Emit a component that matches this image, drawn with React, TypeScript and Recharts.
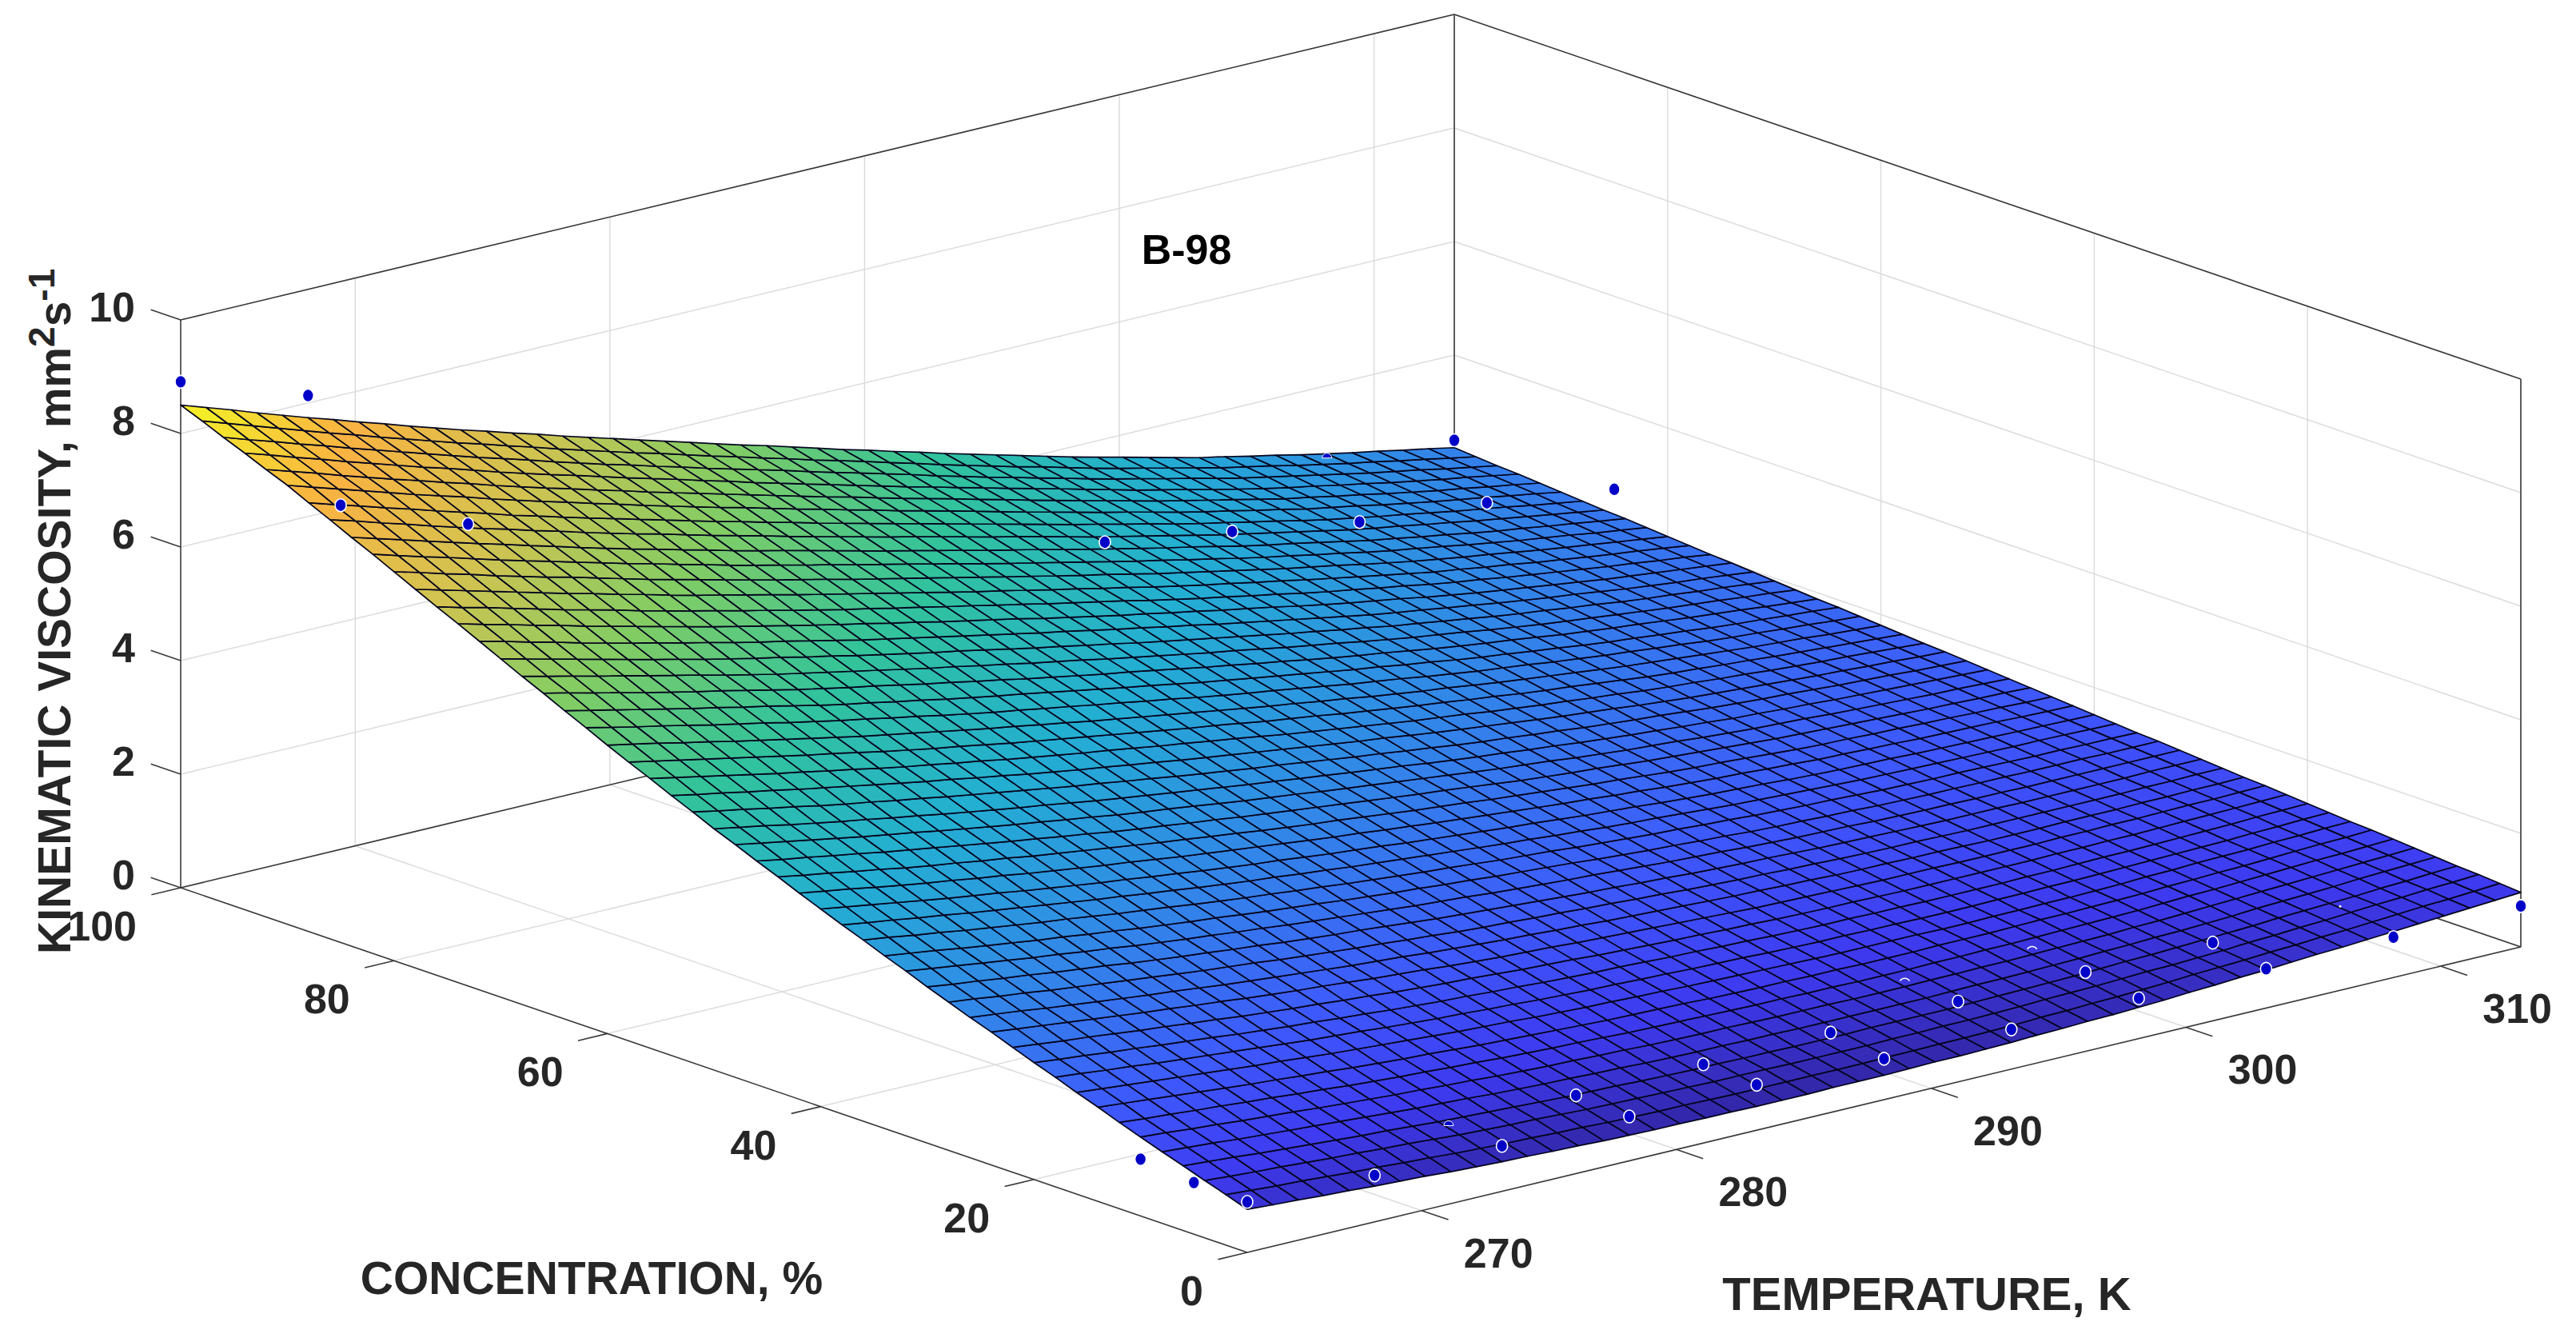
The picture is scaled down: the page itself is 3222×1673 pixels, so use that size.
import { Scatter, ScatterChart, XAxis, YAxis } from "recharts";

const WIDTH = 3222;
const HEIGHT = 1673;
const T_MIN = 263.15;
const T_MAX = 313.15;

const zTicks = [0, 2, 4, 6, 8, 10];
const concentrationTicks = [0, 20, 40, 60, 80, 100];
const temperatureTicks = [270, 280, 290, 300, 310];

const gridConcentrations = [
  0, 2, 4, 6, 8, 10, 12, 14, 16, 18, 20, 22, 24, 26, 28, 30, 32, 34, 36, 38, 40, 42, 44, 46, 48, 50,
  52, 54, 56, 58, 60, 62, 64, 66, 68, 70, 72, 74, 76, 78, 80, 82, 84, 86, 88, 90, 92, 94, 96, 98, 100,
];
const gridTemperatures = [
  263.15, 264.15, 265.15, 266.15, 267.15, 268.15, 269.15, 270.15, 271.15, 272.15, 273.15, 274.15, 275.15,
  276.15, 277.15, 278.15, 279.15, 280.15, 281.15, 282.15, 283.15, 284.15, 285.15, 286.15, 287.15, 288.15,
  289.15, 290.15, 291.15, 292.15, 293.15, 294.15, 295.15, 296.15, 297.15, 298.15, 299.15, 300.15, 301.15,
  302.15, 303.15, 304.15, 305.15, 306.15, 307.15, 308.15, 309.15, 310.15, 311.15, 312.15, 313.15,
];

// Surface heights: edges, inner nodes estimated by eye from edges and colour.
const gridViscosity = [
  [.76,.73,.71,.68,.66,.63,.61,.59,.56,.54,.52,.51,.49,.48,.46,.45,.44,.44,.43,.43,.42,.42,.42,.43,.43,.43,.44,.45,.45,.46,.47,.49,.5,.52,.53,.55,.57,.6,.62,.65,.67,.7,.73,.75,.78,.81,.84,.87,.9,.93,.96],
  [.89,.86,.83,.81,.78,.75,.73,.7,.68,.65,.63,.61,.6,.58,.57,.55,.54,.53,.53,.52,.51,.51,.51,.51,.51,.51,.52,.52,.53,.53,.54,.55,.57,.58,.6,.61,.63,.65,.68,.7,.72,.75,.77,.8,.82,.85,.88,.91,.93,.96,.99],
  [1.01,.98,.95,.93,.9,.87,.85,.82,.8,.77,.74,.72,.7,.69,.67,.65,.64,.63,.62,.61,.6,.6,.6,.59,.59,.59,.59,.6,.6,.61,.61,.62,.63,.65,.66,.67,.69,.71,.72,.74,.76,.79,.81,.84,.86,.89,.92,.94,.97,.99,1.02],
  [1.14,1.11,1.08,1.04,1.01,.98,.95,.92,.9,.87,.84,.82,.8,.78,.76,.74,.73,.72,.7,.69,.68,.68,.67,.67,.66,.66,.66,.67,.67,.67,.67,.68,.69,.7,.71,.72,.74,.76,.77,.79,.81,.83,.85,.88,.9,.92,.94,.97,.99,1.02,1.04],
  [1.26,1.23,1.2,1.16,1.13,1.1,1.07,1.04,1.01,.98,.95,.93,.91,.88,.86,.84,.83,.81,.8,.78,.77,.76,.76,.75,.75,.74,.74,.74,.74,.74,.74,.75,.76,.76,.77,.78,.79,.81,.82,.84,.85,.87,.89,.92,.94,.96,.98,1.01,1.03,1.05,1.07],
  [1.39,1.36,1.32,1.29,1.25,1.22,1.19,1.15,1.12,1.09,1.06,1.04,1.01,.99,.96,.94,.92,.91,.89,.88,.86,.85,.84,.84,.83,.82,.82,.82,.81,.81,.81,.82,.82,.83,.83,.84,.85,.86,.87,.89,.9,.92,.94,.96,.98,1.0,1.02,1.04,1.06,1.08,1.1],
  [1.52,1.48,1.45,1.41,1.38,1.34,1.31,1.27,1.24,1.2,1.17,1.14,1.12,1.09,1.07,1.04,1.02,1.0,.99,.97,.95,.94,.93,.92,.91,.9,.9,.89,.89,.88,.88,.88,.89,.89,.9,.9,.91,.92,.93,.94,.95,.97,.99,1.0,1.02,1.04,1.06,1.08,1.09,1.11,1.13],
  [1.66,1.62,1.58,1.54,1.5,1.46,1.42,1.39,1.35,1.32,1.28,1.25,1.22,1.2,1.17,1.14,1.12,1.1,1.08,1.06,1.04,1.03,1.02,1.01,.99,.98,.97,.97,.96,.96,.95,.95,.95,.96,.96,.96,.97,.98,.98,.99,1.0,1.01,1.03,1.04,1.06,1.07,1.09,1.11,1.13,1.14,1.16],
  [1.79,1.75,1.71,1.67,1.63,1.59,1.55,1.51,1.48,1.44,1.4,1.37,1.34,1.31,1.28,1.25,1.23,1.21,1.18,1.16,1.14,1.13,1.11,1.1,1.08,1.07,1.06,1.05,1.04,1.03,1.02,1.02,1.02,1.02,1.01,1.01,1.02,1.02,1.03,1.03,1.04,1.05,1.07,1.08,1.1,1.11,1.12,1.14,1.15,1.17,1.18],
  [1.93,1.89,1.84,1.8,1.75,1.71,1.67,1.63,1.59,1.55,1.51,1.48,1.45,1.41,1.38,1.35,1.33,1.3,1.28,1.25,1.23,1.21,1.2,1.18,1.17,1.15,1.14,1.13,1.11,1.1,1.09,1.09,1.08,1.08,1.07,1.07,1.07,1.08,1.08,1.09,1.09,1.1,1.11,1.12,1.13,1.14,1.15,1.17,1.18,1.2,1.21],
  [2.06,2.01,1.97,1.92,1.88,1.83,1.79,1.75,1.7,1.66,1.62,1.59,1.55,1.52,1.48,1.45,1.42,1.4,1.37,1.35,1.32,1.3,1.28,1.27,1.25,1.23,1.22,1.2,1.19,1.17,1.16,1.15,1.15,1.14,1.14,1.13,1.13,1.13,1.13,1.14,1.14,1.15,1.16,1.16,1.17,1.18,1.19,1.2,1.22,1.23,1.24],
  [2.2,2.15,2.1,2.06,2.01,1.96,1.92,1.87,1.83,1.78,1.74,1.7,1.67,1.63,1.6,1.56,1.53,1.5,1.48,1.45,1.42,1.4,1.38,1.35,1.33,1.31,1.29,1.28,1.26,1.25,1.23,1.22,1.21,1.21,1.2,1.19,1.19,1.19,1.19,1.19,1.19,1.2,1.2,1.21,1.21,1.22,1.23,1.24,1.25,1.26,1.27],
  [2.34,2.29,2.24,2.19,2.14,2.09,2.04,2.0,1.95,1.91,1.86,1.82,1.78,1.75,1.71,1.67,1.64,1.61,1.57,1.54,1.51,1.49,1.47,1.44,1.42,1.4,1.38,1.36,1.34,1.32,1.3,1.29,1.28,1.27,1.26,1.25,1.25,1.25,1.24,1.24,1.24,1.24,1.25,1.25,1.26,1.26,1.27,1.28,1.28,1.29,1.3],
  [2.47,2.42,2.37,2.31,2.26,2.21,2.16,2.11,2.07,2.02,1.97,1.93,1.89,1.85,1.81,1.77,1.74,1.71,1.67,1.64,1.61,1.58,1.56,1.53,1.51,1.48,1.46,1.44,1.42,1.4,1.38,1.37,1.35,1.34,1.32,1.31,1.31,1.3,1.3,1.29,1.28,1.28,1.28,1.29,1.29,1.29,1.3,1.3,1.31,1.31,1.32],
  [2.61,2.56,2.5,2.45,2.39,2.34,2.29,2.24,2.19,2.14,2.09,2.05,2.01,1.96,1.92,1.88,1.84,1.81,1.77,1.74,1.7,1.67,1.65,1.62,1.6,1.57,1.55,1.52,1.5,1.47,1.45,1.43,1.42,1.4,1.39,1.37,1.36,1.35,1.35,1.34,1.33,1.33,1.33,1.33,1.33,1.33,1.33,1.34,1.34,1.35,1.35],
  [2.75,2.69,2.64,2.58,2.53,2.47,2.42,2.37,2.31,2.26,2.21,2.17,2.12,2.08,2.03,1.99,1.95,1.92,1.88,1.84,1.8,1.77,1.74,1.71,1.68,1.65,1.62,1.6,1.57,1.55,1.52,1.5,1.48,1.47,1.45,1.43,1.42,1.41,1.4,1.39,1.38,1.38,1.38,1.37,1.37,1.37,1.37,1.37,1.38,1.38,1.38],
  [2.9,2.84,2.78,2.72,2.66,2.6,2.55,2.49,2.44,2.38,2.33,2.28,2.24,2.19,2.15,2.1,2.06,2.02,1.98,1.94,1.9,1.87,1.84,1.8,1.77,1.74,1.71,1.69,1.66,1.63,1.6,1.58,1.56,1.53,1.51,1.49,1.48,1.47,1.45,1.44,1.43,1.43,1.42,1.42,1.41,1.41,1.41,1.41,1.41,1.41,1.41],
  [3.04,2.98,2.92,2.85,2.79,2.73,2.67,2.62,2.56,2.51,2.45,2.4,2.35,2.31,2.26,2.21,2.17,2.13,2.08,2.04,2.0,1.97,1.93,1.9,1.86,1.83,1.8,1.77,1.73,1.7,1.67,1.65,1.62,1.6,1.57,1.55,1.54,1.52,1.51,1.49,1.48,1.47,1.47,1.46,1.46,1.45,1.45,1.45,1.44,1.44,1.44],
  [3.19,3.13,3.06,3.0,2.93,2.87,2.81,2.75,2.7,2.64,2.58,2.53,2.48,2.42,2.37,2.32,2.28,2.23,2.19,2.14,2.1,2.06,2.02,1.99,1.95,1.91,1.88,1.85,1.81,1.78,1.75,1.72,1.7,1.67,1.65,1.62,1.6,1.58,1.57,1.55,1.53,1.52,1.51,1.51,1.5,1.49,1.48,1.48,1.47,1.47,1.46],
  [3.33,3.26,3.2,3.13,3.07,3.0,2.94,2.88,2.82,2.76,2.7,2.65,2.59,2.54,2.48,2.43,2.38,2.34,2.29,2.25,2.2,2.16,2.12,2.08,2.04,2.0,1.96,1.93,1.89,1.86,1.82,1.79,1.77,1.74,1.71,1.68,1.66,1.64,1.62,1.6,1.58,1.57,1.56,1.55,1.54,1.53,1.52,1.52,1.51,1.5,1.49],
  [3.48,3.41,3.34,3.27,3.2,3.13,3.07,3.01,2.94,2.88,2.82,2.76,2.71,2.65,2.6,2.54,2.49,2.44,2.4,2.35,2.3,2.26,2.22,2.17,2.13,2.09,2.05,2.01,1.98,1.94,1.9,1.87,1.84,1.8,1.77,1.74,1.72,1.7,1.67,1.65,1.63,1.62,1.61,1.59,1.58,1.57,1.56,1.55,1.54,1.53,1.52],
  [3.63,3.56,3.49,3.41,3.34,3.27,3.21,3.14,3.08,3.01,2.95,2.89,2.83,2.78,2.72,2.66,2.61,2.56,2.51,2.46,2.41,2.36,2.32,2.27,2.23,2.18,2.14,2.1,2.06,2.02,1.98,1.95,1.91,1.88,1.84,1.81,1.78,1.76,1.73,1.71,1.68,1.67,1.65,1.64,1.62,1.61,1.6,1.59,1.57,1.56,1.55],
  [3.79,3.71,3.64,3.56,3.49,3.41,3.34,3.28,3.21,3.15,3.08,3.02,2.96,2.9,2.84,2.78,2.73,2.67,2.62,2.56,2.51,2.46,2.42,2.37,2.32,2.27,2.23,2.19,2.14,2.1,2.06,2.02,1.98,1.95,1.91,1.87,1.84,1.82,1.79,1.76,1.73,1.71,1.7,1.68,1.67,1.65,1.64,1.62,1.61,1.59,1.58],
  [3.94,3.86,3.79,3.71,3.64,3.56,3.49,3.42,3.35,3.28,3.21,3.15,3.08,3.02,2.95,2.89,2.84,2.78,2.73,2.67,2.62,2.57,2.52,2.47,2.42,2.37,2.32,2.28,2.23,2.18,2.13,2.09,2.05,2.02,1.98,1.94,1.91,1.88,1.85,1.82,1.79,1.77,1.75,1.73,1.71,1.69,1.67,1.66,1.64,1.63,1.61],
  [4.1,4.02,3.94,3.86,3.78,3.7,3.63,3.56,3.48,3.41,3.34,3.27,3.21,3.14,3.08,3.01,2.95,2.9,2.84,2.78,2.72,2.67,2.62,2.56,2.51,2.46,2.41,2.36,2.31,2.26,2.21,2.17,2.13,2.08,2.04,2.0,1.97,1.94,1.9,1.87,1.84,1.82,1.8,1.77,1.75,1.73,1.71,1.69,1.68,1.66,1.64],
  [4.25,4.17,4.09,4.0,3.92,3.84,3.77,3.69,3.62,3.54,3.47,3.4,3.33,3.27,3.2,3.13,3.07,3.01,2.95,2.89,2.83,2.77,2.72,2.66,2.61,2.55,2.5,2.45,2.39,2.34,2.29,2.25,2.2,2.16,2.11,2.07,2.03,2.0,1.96,1.93,1.89,1.87,1.84,1.82,1.79,1.77,1.75,1.73,1.71,1.69,1.67],
  [4.42,4.33,4.25,4.16,4.08,3.99,3.91,3.84,3.76,3.69,3.61,3.54,3.47,3.4,3.33,3.26,3.2,3.13,3.07,3.0,2.94,2.88,2.82,2.77,2.71,2.65,2.59,2.54,2.48,2.43,2.37,2.32,2.28,2.23,2.19,2.14,2.1,2.06,2.03,1.99,1.95,1.92,1.89,1.87,1.84,1.81,1.79,1.77,1.74,1.72,1.7],
  [4.58,4.49,4.41,4.32,4.24,4.15,4.07,3.99,3.91,3.83,3.75,3.68,3.6,3.53,3.45,3.38,3.31,3.25,3.18,3.12,3.05,2.99,2.93,2.87,2.81,2.75,2.69,2.63,2.58,2.52,2.46,2.41,2.36,2.31,2.26,2.21,2.17,2.13,2.08,2.04,2.0,1.97,1.94,1.91,1.88,1.85,1.83,1.8,1.78,1.75,1.73],
  [4.75,4.66,4.57,4.48,4.39,4.3,4.22,4.13,4.05,3.96,3.88,3.81,3.73,3.66,3.58,3.51,3.44,3.37,3.31,3.24,3.17,3.11,3.04,2.98,2.91,2.84,2.78,2.72,2.66,2.6,2.54,2.49,2.44,2.38,2.33,2.28,2.24,2.19,2.15,2.1,2.06,2.03,1.99,1.96,1.92,1.89,1.86,1.84,1.81,1.78,1.75],
  [4.91,4.82,4.73,4.64,4.55,4.46,4.37,4.28,4.2,4.11,4.02,3.94,3.86,3.79,3.71,3.63,3.56,3.49,3.42,3.35,3.28,3.21,3.14,3.08,3.01,2.94,2.88,2.82,2.75,2.69,2.63,2.57,2.52,2.46,2.41,2.35,2.3,2.26,2.21,2.16,2.11,2.07,2.04,2.0,1.97,1.93,1.9,1.87,1.84,1.81,1.78],
  [5.08,4.99,4.9,4.8,4.71,4.61,4.52,4.43,4.34,4.25,4.16,4.08,4.0,3.92,3.84,3.76,3.69,3.61,3.54,3.46,3.39,3.32,3.25,3.18,3.11,3.04,2.97,2.91,2.84,2.78,2.71,2.65,2.59,2.54,2.48,2.42,2.37,2.32,2.27,2.22,2.17,2.13,2.09,2.05,2.01,1.97,1.94,1.91,1.87,1.84,1.81],
  [5.26,5.16,5.06,4.97,4.87,4.77,4.68,4.59,4.49,4.4,4.31,4.23,4.14,4.06,3.97,3.89,3.81,3.74,3.66,3.59,3.51,3.44,3.36,3.29,3.21,3.14,3.07,3.01,2.94,2.87,2.8,2.74,2.68,2.61,2.55,2.49,2.44,2.39,2.33,2.28,2.23,2.19,2.14,2.1,2.05,2.01,1.98,1.94,1.91,1.87,1.84],
  [5.43,5.33,5.23,5.13,5.03,4.93,4.84,4.74,4.65,4.55,4.45,4.36,4.28,4.19,4.11,4.02,3.94,3.86,3.79,3.71,3.63,3.55,3.47,3.4,3.32,3.24,3.17,3.1,3.03,2.96,2.89,2.82,2.76,2.69,2.63,2.56,2.5,2.45,2.39,2.34,2.28,2.23,2.19,2.14,2.1,2.05,2.01,1.98,1.94,1.91,1.87],
  [5.61,5.51,5.4,5.3,5.19,5.09,4.99,4.9,4.8,4.7,4.6,4.51,4.42,4.34,4.25,4.16,4.08,3.99,3.91,3.82,3.74,3.66,3.58,3.51,3.43,3.35,3.27,3.2,3.12,3.05,2.97,2.9,2.83,2.77,2.7,2.63,2.57,2.51,2.46,2.4,2.34,2.29,2.24,2.2,2.15,2.1,2.06,2.02,1.97,1.93,1.89],
  [5.78,5.67,5.57,5.46,5.36,5.25,5.15,5.05,4.94,4.84,4.74,4.65,4.56,4.47,4.38,4.29,4.2,4.12,4.03,3.95,3.86,3.78,3.7,3.61,3.53,3.45,3.37,3.29,3.22,3.14,3.06,2.99,2.92,2.84,2.77,2.7,2.64,2.58,2.51,2.45,2.39,2.34,2.29,2.24,2.19,2.14,2.1,2.06,2.01,1.97,1.92],
  [5.96,5.85,5.74,5.63,5.52,5.41,5.3,5.2,5.09,4.99,4.89,4.8,4.7,4.61,4.51,4.42,4.33,4.24,4.16,4.07,3.98,3.89,3.81,3.72,3.64,3.55,3.47,3.39,3.31,3.23,3.15,3.07,3.0,2.92,2.85,2.77,2.71,2.64,2.58,2.51,2.45,2.4,2.34,2.29,2.23,2.18,2.14,2.09,2.05,2.0,1.95],
  [6.14,6.03,5.91,5.8,5.68,5.57,5.46,5.36,5.25,5.15,5.04,4.94,4.85,4.75,4.65,4.55,4.46,4.37,4.28,4.19,4.1,4.01,3.92,3.84,3.75,3.66,3.58,3.49,3.41,3.32,3.24,3.16,3.08,3.0,2.92,2.84,2.77,2.71,2.64,2.58,2.51,2.45,2.39,2.34,2.28,2.22,2.17,2.12,2.08,2.03,1.98],
  [6.32,6.2,6.09,5.97,5.86,5.74,5.63,5.52,5.41,5.3,5.19,5.09,4.99,4.89,4.79,4.69,4.6,4.5,4.41,4.31,4.22,4.13,4.04,3.94,3.85,3.76,3.67,3.59,3.5,3.42,3.33,3.25,3.17,3.08,3.0,2.92,2.85,2.78,2.7,2.63,2.56,2.5,2.44,2.38,2.32,2.26,2.21,2.16,2.11,2.06,2.01],
  [6.49,6.37,6.26,6.14,6.02,5.9,5.79,5.68,5.56,5.45,5.34,5.24,5.13,5.03,4.92,4.82,4.72,4.63,4.53,4.44,4.34,4.25,4.15,4.06,3.96,3.87,3.78,3.69,3.59,3.5,3.41,3.33,3.24,3.16,3.07,2.99,2.92,2.84,2.77,2.69,2.62,2.56,2.49,2.43,2.37,2.31,2.25,2.2,2.14,2.09,2.03],
  [6.67,6.55,6.43,6.31,6.19,6.07,5.95,5.84,5.72,5.61,5.49,5.38,5.28,5.17,5.07,4.96,4.86,4.76,4.66,4.56,4.46,4.36,4.26,4.17,4.07,3.97,3.88,3.78,3.69,3.59,3.5,3.41,3.33,3.24,3.16,3.07,2.99,2.91,2.83,2.75,2.67,2.61,2.54,2.48,2.41,2.35,2.29,2.23,2.18,2.12,2.06],
  [6.85,6.73,6.6,6.48,6.35,6.23,6.11,6.0,5.88,5.76,5.64,5.53,5.42,5.31,5.2,5.09,4.99,4.89,4.78,4.68,4.58,4.48,4.38,4.28,4.18,4.08,3.98,3.88,3.79,3.69,3.59,3.5,3.41,3.32,3.23,3.14,3.06,2.98,2.89,2.81,2.73,2.66,2.59,2.53,2.46,2.39,2.33,2.27,2.21,2.15,2.09],
  [7.03,6.9,6.77,6.65,6.52,6.39,6.27,6.15,6.03,5.91,5.79,5.68,5.56,5.45,5.33,5.22,5.12,5.01,4.91,4.8,4.7,4.6,4.49,4.39,4.28,4.18,4.08,3.98,3.88,3.78,3.68,3.59,3.49,3.4,3.3,3.21,3.13,3.04,2.96,2.87,2.79,2.72,2.65,2.57,2.5,2.43,2.37,2.31,2.24,2.18,2.12],
  [7.2,7.07,6.94,6.81,6.68,6.55,6.43,6.3,6.18,6.05,5.93,5.81,5.7,5.58,5.47,5.35,5.24,5.14,5.03,4.92,4.81,4.7,4.6,4.49,4.39,4.28,4.18,4.08,3.97,3.87,3.77,3.67,3.57,3.48,3.38,3.28,3.19,3.11,3.02,2.93,2.84,2.77,2.69,2.62,2.54,2.47,2.41,2.34,2.28,2.21,2.15],
  [7.38,7.25,7.11,6.98,6.84,6.71,6.58,6.46,6.33,6.21,6.08,5.96,5.84,5.73,5.61,5.49,5.38,5.27,5.15,5.04,4.93,4.82,4.71,4.61,4.5,4.39,4.28,4.18,4.07,3.96,3.85,3.75,3.65,3.55,3.45,3.35,3.26,3.17,3.08,2.99,2.9,2.82,2.75,2.67,2.6,2.52,2.45,2.38,2.31,2.24,2.17],
  [7.55,7.41,7.28,7.14,7.01,6.87,6.74,6.61,6.47,6.35,6.22,6.1,5.98,5.86,5.74,5.62,5.5,5.39,5.27,5.16,5.04,4.93,4.82,4.71,4.6,4.49,4.38,4.27,4.16,4.05,3.94,3.84,3.73,3.63,3.52,3.42,3.33,3.23,3.14,3.04,2.95,2.87,2.79,2.72,2.64,2.56,2.49,2.42,2.34,2.27,2.2],
  [7.73,7.59,7.45,7.31,7.17,7.03,6.9,6.77,6.63,6.5,6.37,6.25,6.12,6.0,5.87,5.75,5.63,5.51,5.4,5.28,5.16,5.05,4.93,4.82,4.7,4.59,4.48,4.37,4.25,4.14,4.03,3.92,3.81,3.71,3.6,3.49,3.39,3.3,3.2,3.11,3.01,2.93,2.85,2.76,2.68,2.6,2.53,2.46,2.38,2.31,2.23],
  [7.88,7.74,7.6,7.45,7.31,7.17,7.04,6.9,6.77,6.63,6.5,6.37,6.25,6.12,6.0,5.87,5.75,5.63,5.51,5.39,5.27,5.15,5.03,4.92,4.8,4.68,4.57,4.46,4.34,4.23,4.11,4.0,3.89,3.78,3.67,3.56,3.46,3.36,3.26,3.16,3.06,2.98,2.89,2.81,2.72,2.64,2.56,2.49,2.41,2.34,2.26],
  [8.04,7.9,7.75,7.61,7.46,7.32,7.18,7.04,6.91,6.77,6.63,6.5,6.37,6.25,6.12,5.99,5.87,5.75,5.62,5.5,5.37,5.25,5.13,5.01,4.89,4.77,4.65,4.54,4.42,4.31,4.19,4.08,3.97,3.85,3.74,3.62,3.52,3.42,3.31,3.21,3.11,3.02,2.94,2.85,2.77,2.68,2.6,2.52,2.45,2.37,2.29],
  [8.19,8.04,7.9,7.75,7.61,7.46,7.32,7.18,7.04,6.9,6.76,6.63,6.5,6.36,6.23,6.1,5.98,5.85,5.73,5.6,5.48,5.36,5.24,5.11,4.99,4.87,4.75,4.63,4.5,4.38,4.26,4.15,4.03,3.92,3.8,3.69,3.59,3.48,3.38,3.27,3.17,3.08,2.99,2.9,2.81,2.72,2.64,2.56,2.47,2.39,2.31],
  [8.35,8.2,8.05,7.9,7.75,7.6,7.46,7.31,7.17,7.03,6.89,6.76,6.62,6.49,6.35,6.22,6.09,5.96,5.84,5.71,5.58,5.46,5.33,5.21,5.08,4.96,4.84,4.71,4.59,4.46,4.34,4.22,4.1,3.99,3.87,3.75,3.64,3.54,3.43,3.33,3.22,3.13,3.04,2.94,2.85,2.76,2.68,2.59,2.51,2.42,2.34],
  [8.5,8.35,8.2,8.04,7.89,7.74,7.6,7.45,7.31,7.16,7.02,6.88,6.75,6.61,6.48,6.34,6.21,6.08,5.95,5.82,5.69,5.56,5.43,5.31,5.18,5.05,4.92,4.8,4.67,4.55,4.42,4.3,4.18,4.06,3.94,3.82,3.71,3.6,3.49,3.38,3.27,3.18,3.08,2.99,2.89,2.8,2.71,2.63,2.54,2.46,2.37],
];

const pointTemperatures = [263.15, 268.15, 273.15, 278.15, 283.15, 288.15, 293.15, 298.15, 303.15, 308.15, 313.15];
const pointConcentrations = [0, 5, 10, 85, 100];
const pointViscosity = [
  [0.89, 0.82, 0.8, 0.78, 0.8, 0.72, 0.7, 0.71, 0.69, 0.71, 0.72],
  [0.91, null, 0.85, 0.83, 0.84, 0.86, 0.87, 0.85, 0.83, 0.93, null],
  [1.0, null, null, null, null, null, 0.91, 0.93, null, null, null],
  [7.7, 6.83, null, null, null, null, 3.82, 3.47, 3.1, 2.9, 2.6],
  [8.91, 8.13, null, null, null, null, null, null, null, 2.74, 2.5],
];

const colorStops = [
  [0.42, 50, 38, 165],
  [1.0, 62, 58, 240],
  [1.6, 62, 88, 252],
  [2.5, 50, 135, 232],
  [3.5, 35, 175, 210],
  [4.5, 50, 195, 155],
  [5.5, 130, 205, 100],
  [6.5, 210, 195, 80],
  [7.5, 250, 178, 65],
  [8.1, 245, 220, 50],
  [8.5, 245, 245, 35],
];

type Pt = { x: number; y: number };

function project(t: number, c: number, z: number): Pt {
  const f = (t - T_MIN) / (T_MAX - T_MIN);
  return {
    x: 1560 + f * 1593 - (c / 100) * 1334,
    y: 1566 - f * 382 - (c / 100) * 456 - z * 71,
  };
}

function colorFor(z: number) {
  for (let i = 1; i < colorStops.length; i++) {
    if (z <= colorStops[i][0]) {
      const a = colorStops[i - 1];
      const b = colorStops[i];
      const k = Math.max(0, (z - a[0]) / (b[0] - a[0]));
      return `rgb(${[1, 2, 3].map((n) => Math.round(a[n] + (b[n] - a[n]) * k)).join(",")})`;
    }
  }
  return "rgb(245,245,35)";
}

function seg(a: Pt, b: Pt) {
  return { x: (a.x + b.x) / 2, y: (a.y + b.y) / 2, dx: (b.x - a.x) / 2, dy: (b.y - a.y) / 2 };
}

const TL = T_MIN;
const TR = T_MAX;

const gridLines = [
  ...zTicks.flatMap((z) => [seg(project(TL, 100, z), project(TR, 100, z)), seg(project(TR, 100, z), project(TR, 0, z))]),
  ...temperatureTicks.flatMap((t) => [seg(project(t, 100, 0), project(t, 100, 10)), seg(project(t, 0, 0), project(t, 100, 0))]),
  ...concentrationTicks.flatMap((c) => [seg(project(TR, c, 0), project(TR, c, 10)), seg(project(TL, c, 0), project(TR, c, 0))]),
];

const boxLines = [
  seg(project(TL, 100, 0), project(TL, 100, 10)),
  seg(project(TR, 100, 0), project(TR, 100, 10)),
  seg(project(TR, 0, 0), project(TR, 0, 10)),
  seg(project(TL, 100, 10), project(TR, 100, 10)),
  seg(project(TR, 100, 10), project(TR, 0, 10)),
  seg(project(TL, 100, 0), project(TR, 100, 0)),
  seg(project(TR, 100, 0), project(TR, 0, 0)),
  seg(project(TL, 0, 0), project(TL, 100, 0)),
  seg(project(TL, 0, 0), project(TR, 0, 0)),
  ...zTicks.map((z) => seg(project(TL, 100, z), project(TL, 102.8, z))),
  ...concentrationTicks.map((c) => seg(project(TL, c, 0), project(TL - 1.15, c, 0))),
  ...temperatureTicks.map((t) => seg(project(t, 0, 0), project(t, -2.5, 0))),
];

const cells = gridViscosity.slice(0, -1).flatMap((row, i) =>
  row.slice(0, -1).map((z, j) => {
    const corners = [
      project(gridTemperatures[j], gridConcentrations[i], z),
      project(gridTemperatures[j + 1], gridConcentrations[i], row[j + 1]),
      project(gridTemperatures[j + 1], gridConcentrations[i + 1], gridViscosity[i + 1][j + 1]),
      project(gridTemperatures[j], gridConcentrations[i + 1], gridViscosity[i + 1][j]),
    ];
    const x = corners.reduce((s, p) => s + p.x, 0) / 4;
    const y = corners.reduce((s, p) => s + p.y, 0) / 4;
    const zMean = (z + row[j + 1] + gridViscosity[i + 1][j + 1] + gridViscosity[i + 1][j]) / 4;
    return { x, y, corners, fill: colorFor(zMean) };
  }),
);

const peeks: Record<string, string> = { "5-2": "half", "5-9": "speck", "10-6": "arc", "10-7": "arc", "100-9": "half" };

const points = pointViscosity.flatMap((row, i) =>
  row.flatMap((z, j) =>
    z === null
      ? []
      : [{ ...project(pointTemperatures[j], pointConcentrations[i], z), kind: peeks[`${pointConcentrations[i]}-${j}`] ?? "full" }],
  ),
);

const font = "'Liberation Sans', Arial, sans-serif";

const labels = [
  ...zTicks.map((z) => {
    const p = project(TL, 100, z);
    return { x: p.x - 57, y: p.y - 16, text: String(z), anchor: "end", size: 52 };
  }),
  ...concentrationTicks.map((c) => {
    const p = project(TL, c, 0);
    return { x: p.x - 55, y: p.y + 48, text: String(c), anchor: "end", size: 52 };
  }),
  ...temperatureTicks.map((t) => {
    const p = project(t, 0, 0);
    return { x: p.x + 96, y: p.y + 53, text: String(t), anchor: "middle", size: 52 };
  }),
  { x: 740, y: 1598, text: "CONCENTRATION, %", anchor: "middle", size: 57 },
  { x: 2410, y: 1617, text: "TEMPERATURE, K", anchor: "middle", size: 58 },
  { x: 1484, y: 312, text: "B-98", anchor: "middle", size: 52, color: "#000" },
];

const yTitleAnchor = [{ x: 88, y: 1193 }];

function LineShape({ cx, cy, payload, stroke, strokeWidth }: any) {
  return (
    <line
      x1={cx - payload.dx}
      y1={cy - payload.dy}
      x2={cx + payload.dx}
      y2={cy + payload.dy}
      stroke={stroke}
      strokeWidth={strokeWidth}
    />
  );
}

function CellShape({ cx, cy, payload }: any) {
  const pts = payload.corners.map((p: Pt) => `${cx + p.x - payload.x},${cy + p.y - payload.y}`).join(" ");
  return <polygon points={pts} fill={payload.fill} stroke="#05051e" strokeWidth={1.7} strokeLinejoin="round" />;
}

function PointShape({ cx, cy, payload }: any) {
  if (payload.kind === "speck") return <circle cx={cx} cy={cy} r={1.5} fill="#fff" />;
  if (payload.kind === "arc")
    return <path d={`M${cx - 6},${cy} A7,7 0 0 1 ${cx + 6},${cy}`} fill="none" stroke="#fff" strokeWidth={1.5} />;
  if (payload.kind === "half")
    return <path d={`M${cx - 6},${cy + 1} A6,6 0 0 1 ${cx + 6},${cy + 1} Z`} fill="#0000c8" stroke="#fff" strokeWidth={1} />;
  return <ellipse cx={cx} cy={cy} rx={7} ry={8} fill="#0000c8" stroke="#fff" strokeWidth={1.6} />;
}

function LabelShape({ cx, cy, payload }: any) {
  return (
    <text
      x={cx}
      y={cy}
      textAnchor={payload.anchor}
      dominantBaseline="central"
      fontFamily={font}
      fontWeight="bold"
      fontSize={payload.size}
      fill={payload.color ?? "#262626"}
    >
      {payload.text}
    </text>
  );
}

function YTitleShape({ cx, cy }: any) {
  return (
    <text
      transform={`translate(${cx},${cy}) rotate(-90)`}
      fontFamily={font}
      fontWeight="bold"
      fontSize={57}
      fill="#262626"
    >
      KINEMATIC VISCOSITY, mm
      <tspan fontSize={46} dy={-20}>2</tspan>
      <tspan dy={20}>s</tspan>
      <tspan fontSize={46} dy={-20}>-1</tspan>
    </text>
  );
}

export default function App() {
  return (
    <div style={{ position: "absolute", left: 0, top: 0, width: WIDTH, height: HEIGHT, background: "#fff" }}>
      <ScatterChart width={WIDTH} height={HEIGHT} margin={{ top: 0, right: 0, bottom: 0, left: 0 }}>
        <XAxis type="number" dataKey="x" domain={[0, WIDTH]} hide />
        <YAxis type="number" dataKey="y" domain={[0, HEIGHT]} reversed hide />
        <Scatter data={gridLines} isAnimationActive={false} shape={(p: any) => <LineShape {...p} stroke="#dcdcdc" strokeWidth={1.5} />} />
        <Scatter data={boxLines} isAnimationActive={false} shape={(p: any) => <LineShape {...p} stroke="#3a3a3a" strokeWidth={1.6} />} />
        <Scatter data={cells} isAnimationActive={false} shape={(p: any) => <CellShape {...p} />} />
        <Scatter data={points} isAnimationActive={false} shape={(p: any) => <PointShape {...p} />} />
        <Scatter data={labels} isAnimationActive={false} shape={(p: any) => <LabelShape {...p} />} />
        <Scatter data={yTitleAnchor} isAnimationActive={false} shape={(p: any) => <YTitleShape {...p} />} />
      </ScatterChart>
    </div>
  );
}
